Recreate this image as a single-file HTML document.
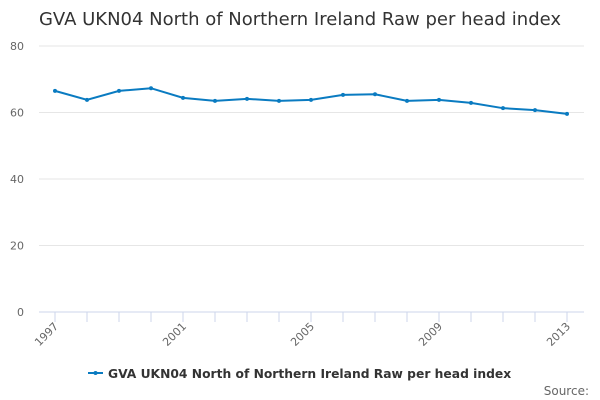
<!DOCTYPE html>
<html><head><meta charset="utf-8"><style>
body{margin:0;background:#fff;font-family:"DejaVu Sans","Liberation Sans",sans-serif}
svg{display:block}
</style></head><body>
<svg id="c" width="600" height="400" xmlns="http://www.w3.org/2000/svg">
<text x="300" y="25" text-anchor="middle" font-size="18" fill="#333">GVA UKN04 North of Northern Ireland Raw per head index</text>
<g id="grid"></g><g id="xaxis"></g><g id="series"></g>
<g>
<line x1="88" y1="373" x2="103" y2="373" stroke="#0a7bc1" stroke-width="2"/>
<circle cx="95.5" cy="373" r="2" fill="#0a7bc1"/>
<text x="108" y="378" font-size="12.3" font-weight="bold" fill="#333">GVA UKN04 North of Northern Ireland Raw per head index</text>
</g>
<text x="589" y="395" text-anchor="end" font-size="12" fill="#666">Source:</text>
</svg>
<script>
const years=[1997,1998,1999,2000,2001,2002,2003,2004,2005,2006,2007,2008,2009,2010,2011,2012,2013];
const values=[66.5,63.8,66.5,67.3,64.4,63.5,64.1,63.5,63.8,65.3,65.5,63.5,63.8,62.9,61.3,60.7,59.6];
const yTicks=[0,20,40,60,80];
const xLabels=[1997,2001,2005,2009,2013];
const NS="http://www.w3.org/2000/svg";
const x=v=>55+(v-1997)*32;
const y=v=>312-v*266/80;
function mk(t,a,p){const e=document.createElementNS(NS,t);for(const k in a)e.setAttribute(k,a[k]);p.appendChild(e);return e;}
const g=document.getElementById('grid');
yTicks.forEach(v=>{
 const l=mk('line',{x1:39,x2:584,y1:y(v),y2:y(v),stroke:v===0?'#ccd6eb':'#e6e6e6'},g);
 
 
 const t=mk('text',{x:24,y:y(v)+4,'text-anchor':'end','font-size':11,fill:'#666'},g);t.textContent=v;
 
 
});
const xa=document.getElementById('xaxis');
years.forEach(v=>{
 const l=mk('line',{x1:x(v),x2:x(v),y1:312,y2:322,stroke:'#ccd6eb'},xa);
 
 
});
xLabels.forEach(v=>{
 const t=mk('text',{x:x(v)+4,y:327,'text-anchor':'end','font-size':11,fill:'#666',transform:`rotate(-45 ${x(v)+4} 327)`},xa);t.textContent=v;
 
 
});
const s=document.getElementById('series');
const p=mk('path',{d:values.map((v,i)=>(i?'L':'M')+x(years[i])+' '+y(v)).join(''),fill:'none',stroke:'#0a7bc1','stroke-width':2},s);


values.forEach((v,i)=>{
 const c=mk('circle',{cx:x(years[i]),cy:y(v),r:2,fill:'#0a7bc1'},s);
 
 
});
</script>
</body></html>
